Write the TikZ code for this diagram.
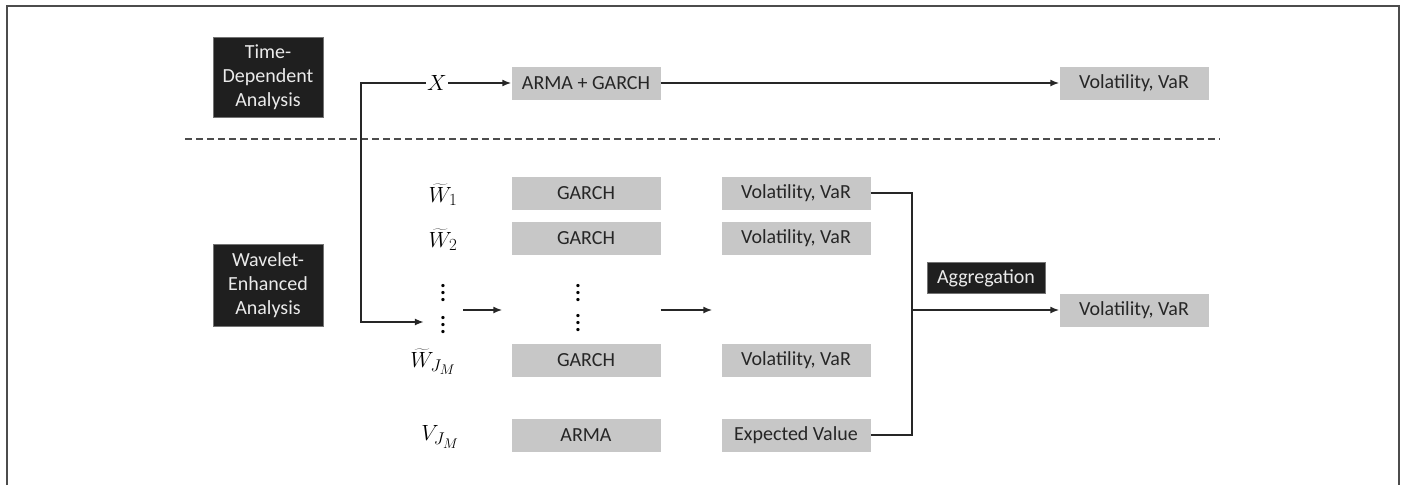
\RequirePackage{fix-cm}
\documentclass[tikz,border=0pt]{standalone}
\usepackage{fontspec}
\setmainfont{Carlito}
\usetikzlibrary{positioning}
\usetikzlibrary{arrows.meta}

\DeclareMathSizes{22}{22}{17}{14}
\newcommand{\coldots}{\vbox{\baselineskip=7pt\lineskiplimit=0pt%
  \hbox{\bfseries .}\hbox{\bfseries .}\hbox{\bfseries .}}}

\begin{document}
\begin{tikzpicture}[x=1pt,y=-1pt,node distance=45pt,on grid,%
  model/.style={fill=black!22,text=black!85,minimum width=149pt,%
  minimum height=33pt,inner sep=0pt,font=\fontsize{20}{24}\selectfont},
  phase/.style={fill=black!88,draw=black!55,text=black!8,align=center,%
  inner sep=0pt,font=\fontsize{20}{24}\selectfont},
  series/.style={inner sep=1pt,font=\fontsize{22}{24}\selectfont},
  ellip/.style={inner xsep=16pt,inner ysep=0pt,font=\fontsize{22}{24}\selectfont},
  flow/.style={-{Latex[length=9pt,width=7pt]},line width=1.6pt,draw=black!85},
  wire/.style={line width=1.6pt,draw=black!85}]
  \useasboundingbox (0,0) rectangle (1403,485);
  \draw[line width=1.5pt,black!70] (7,485) -- (7,6) -- (1399,6) -- (1399,485);

  % the two analyses
  \node[phase,minimum width=110pt,minimum height=80pt] (tda) at (268,77)
    {Time-\\Dependent\\Analysis};
  \node[phase,minimum width=110pt,minimum height=82pt] (wea) at (268,285)
    {Wavelet-\\Enhanced\\Analysis};
  \draw[black!70,line width=1.3pt,dash pattern=on 7pt off 4pt] (185,139) -- (1220,139);

  % time-dependent branch
  \node[series] (x)  at (437,83)         {$X$};
  \node[model]  (am) [right=149pt of x]  {ARMA + GARCH};
  \node[model]  (vt) [right=548pt of am] {Volatility, VaR};

  % wavelet branch
  \node[series] (w1) at (443,195)        {$\widetilde{W}_1$};
  \node[model]  (g1) at (586,193)        {GARCH};
  \node[model]  (v1) [right=210pt of g1] {Volatility, VaR};
  \node[series] (w2) [below=of w1]       {$\widetilde{W}_2$};
  \node[model]  (g2) [below=of g1]       {GARCH};
  \node[model]  (v2) [below=of v1]       {Volatility, VaR};
  \node[ellip]  (da1) at (443,293)       {\coldots};
  \node[ellip]  (da2) [below=32pt of da1] {\coldots};
  \node[ellip]  (db1) at (578,293)       {\coldots};
  \node[ellip]  (db2) [below=30pt of db1] {\coldots};
  \coordinate   (gap) at (443,310);
  \node[series] (wj) at (433,362)        {$\widetilde{W}_{J_M}$};
  \node[model]  (gj) at (586,360)        {GARCH};
  \node[model]  (vj) [right=210pt of gj] {Volatility, VaR};
  \node[series] (vm) at (440,437)        {$V_{J_M}$};
  \node[model]  (ar) at (586,435)        {ARMA};
  \node[model]  (ev) [right=210pt of ar] {Expected Value};

  \node[phase,minimum width=118pt,minimum height=31pt] (agg) at (986,278) {Aggregation};
  \node[model]  (vf) at (1134,310)       {Volatility, VaR};

  \coordinate (split) at (361,83);
  \coordinate (bus)   at (912,310);

  \draw[flow] (x) -- (am);
  \draw[flow] (am) -- (vt);
  \draw[flow] (x) -- (split) |- ([yshift=3pt]da2.west);
  \draw[flow,shorten >=9pt] ([xshift=20pt]gap) -- (gap -| g1.west);
  \draw[flow,shorten >=9pt] (gap -| g1.east) -- (gap -| v1.west);
  \draw[wire] (v1) -| (bus) |- (ev);
  \draw[flow] (bus) -- (vf);
\end{tikzpicture}
\end{document}
